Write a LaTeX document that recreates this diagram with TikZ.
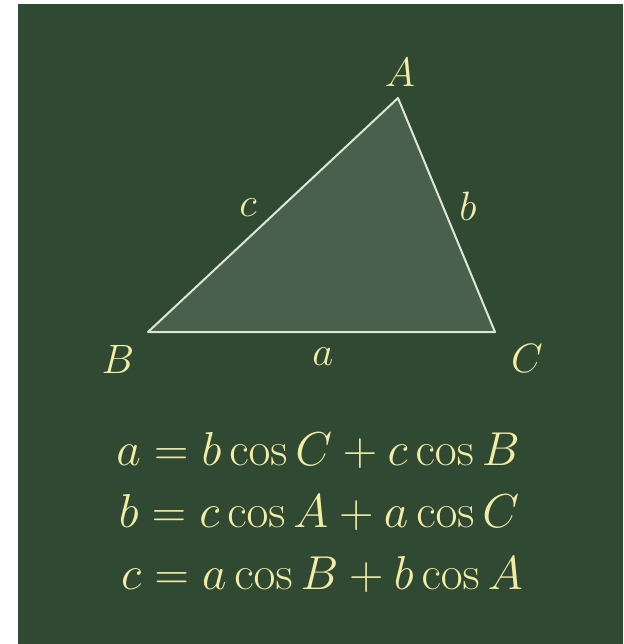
\RequirePackage{fix-cm}
\documentclass[tikz,border=0pt]{standalone}
\usepackage{tikz}

\definecolor{boardgreen}{RGB}{47,73,51}
\definecolor{chalkyellow}{RGB}{242,236,165}
\definecolor{chalkwhite}{RGB}{222,230,214}

\tikzset{
    board/.style={fill=boardgreen},
    side/.style={draw=chalkwhite, line width=1pt, fill=white, fill opacity=0.13, line join=round},
    lab/.style={text=chalkyellow, font=\fontsize{20.5}{24}\selectfont, inner sep=0pt},
    eq/.style={text=chalkyellow, font=\fontsize{23.8}{28}\selectfont, inner sep=0pt, anchor=base}
}

\begin{document}
\begin{tikzpicture}[x=0.5pt,y=-0.5pt]

    \useasboundingbox (0,0) rectangle (623,644);
    \fill[white] (0,0) rectangle (623,644);
    \fill[board] (18,4) rectangle (623,644);

    \coordinate (A) at (398,98);
    \coordinate (B) at (148,332);
    \coordinate (C) at (495,332);
    \draw[side] (A) -- (B) -- (C) -- cycle;

    \node[lab] (labA) at (400,72) {$A$};
    \node[lab] (labB) at (118,359) {$B$};
    \node[lab] (labC) at (527,358) {$C$};
    \node[lab] (laba) at (323,357) {$a$};
    \node[lab] (labb) at (468,206) {$b$};
    \node[lab] (labc) at (248,208) {$c$};

    \node[eq] (eqa) at (318,465) {$a = b\cos C + c\cos B$};
    \node[eq] (eqb) at (319,527) {$b = c\cos A + a\cos C$};
    \node[eq] (eqc) at (322,589) {$c = a\cos B + b\cos A$};

\end{tikzpicture}
\end{document}
